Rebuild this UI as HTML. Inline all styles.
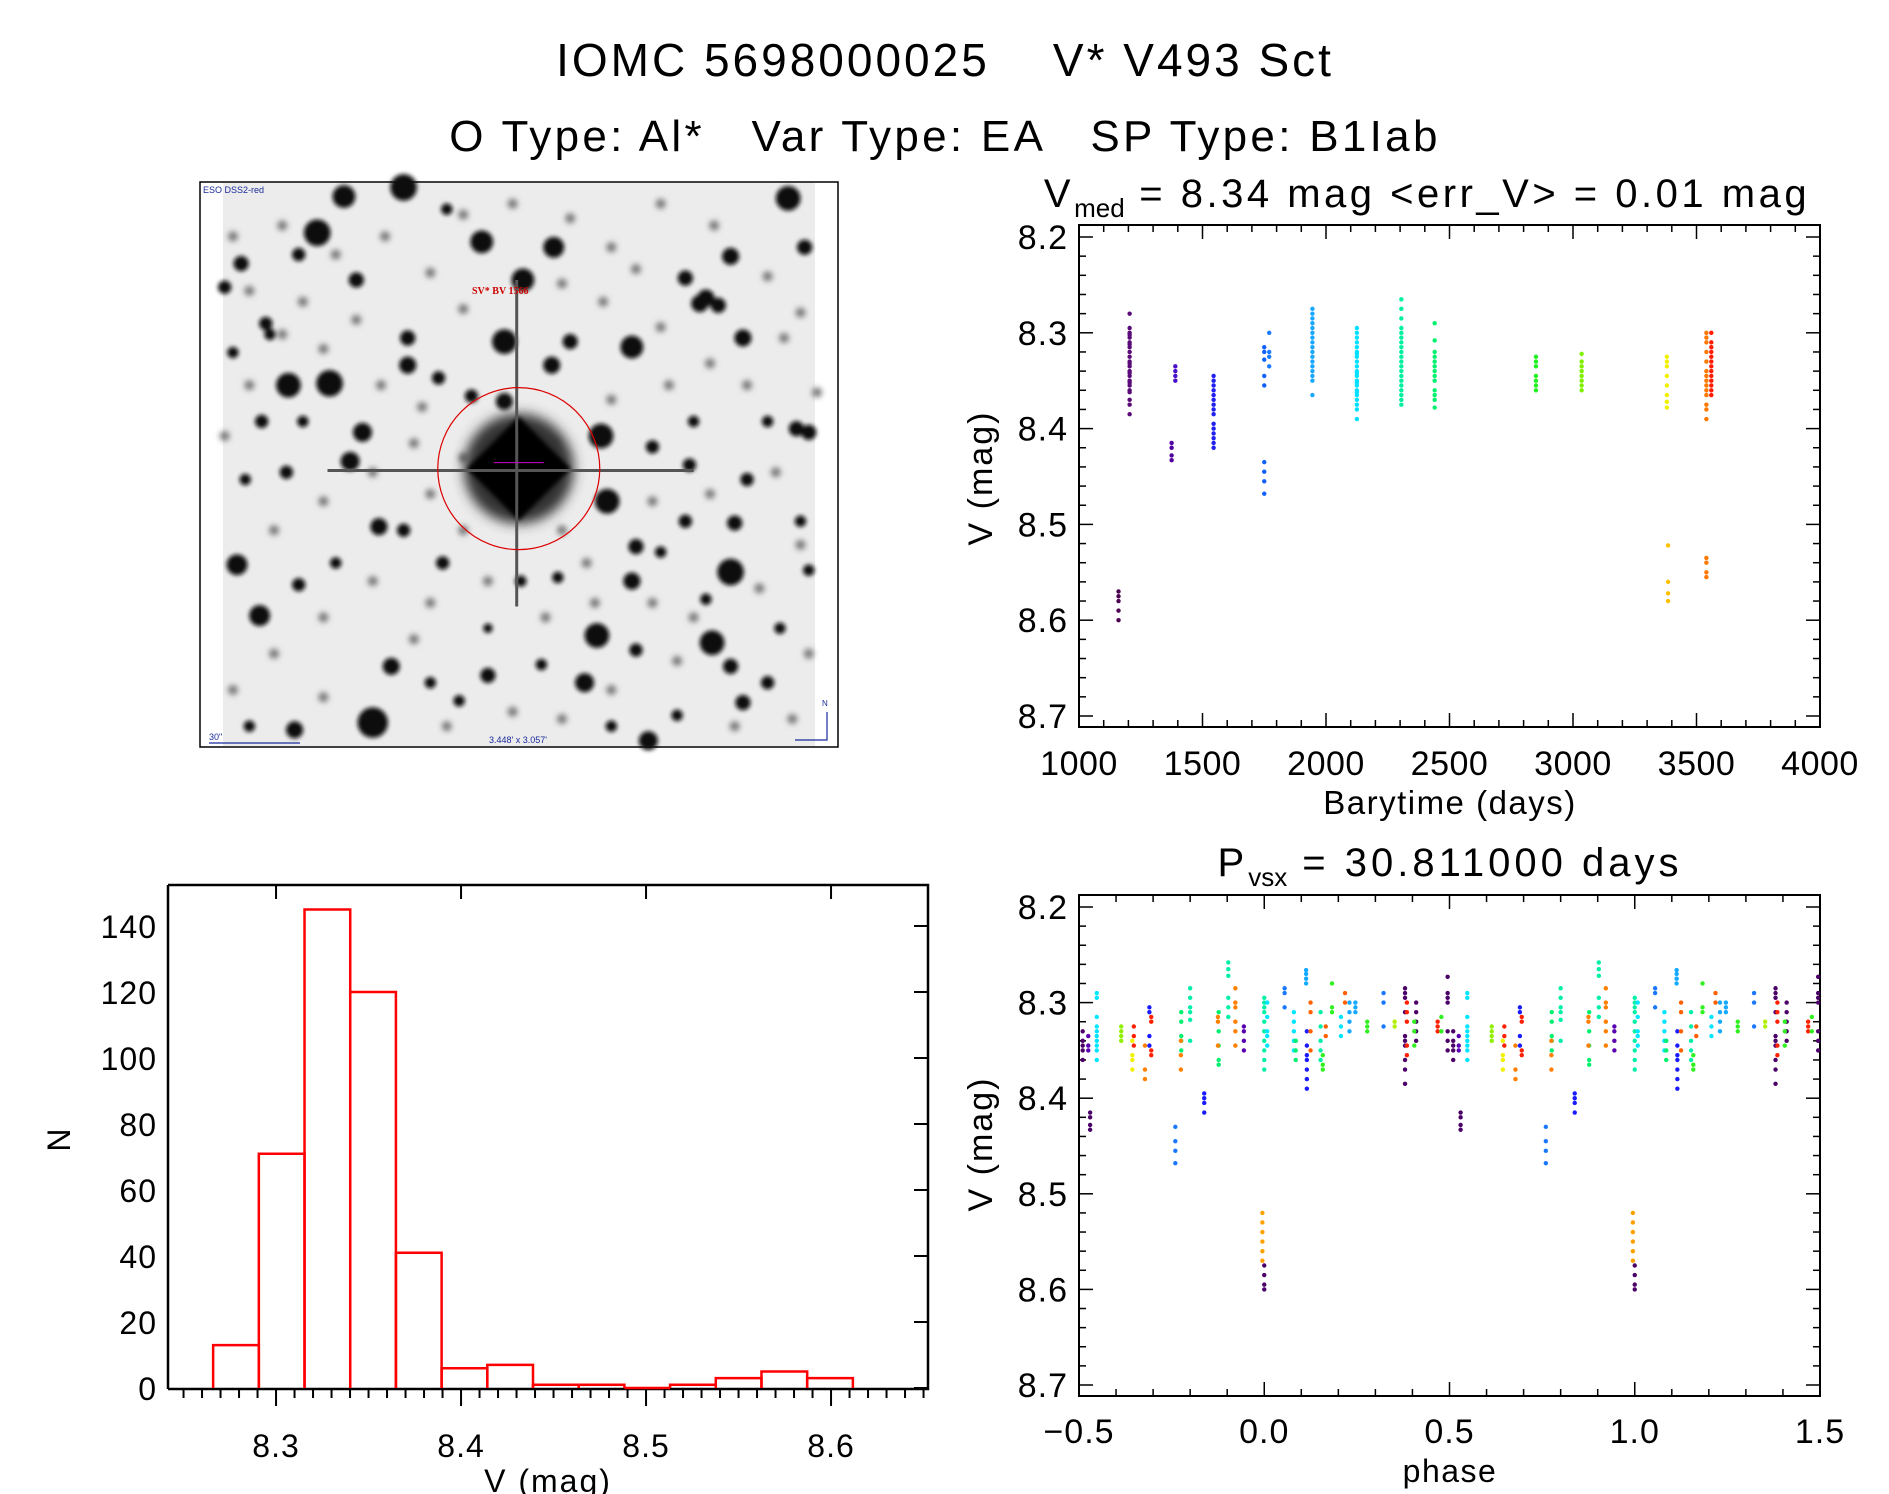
<!DOCTYPE html>
<html><head><meta charset="utf-8"><style>
html,body{margin:0;padding:0;background:#fff}
svg{display:block;font-family:"Liberation Sans",sans-serif}
text{white-space:pre}
</style></head><body>
<svg id="root" width="1889" height="1494" viewBox="0 0 1889 1494" xmlns="http://www.w3.org/2000/svg">
<defs>
<filter id="blur" x="-50%" y="-50%" width="200%" height="200%"><feGaussianBlur stdDeviation="2.2"/></filter>
<filter id="blur3" x="-50%" y="-50%" width="200%" height="200%"><feGaussianBlur stdDeviation="3"/></filter>
<filter id="blur2" x="-50%" y="-50%" width="200%" height="200%"><feGaussianBlur stdDeviation="6"/></filter>
</defs>
<text x="945" y="76" font-size="46" letter-spacing="3" text-anchor="middle">IOMC 5698000025    V* V493 Sct</text>
<text x="945" y="151" font-size="44" letter-spacing="3.3" text-anchor="middle">O Type: Al*   Var Type: EA   SP Type: B1Iab</text>
<g id="sky"></g>
<g id="hist"></g>
<g id="lc"></g>
<g id="ph"></g>
</svg>
<script>
// ---------- Histogram data ----------
const histCounts = [13,71,145,120,41,6,7,1,1,0,1,3,5,3];
const histStart = 8.266;
const histBinWidth = 0.0247;
const histYTicks = [0,20,40,60,80,100,120,140];
const histXTicks = [8.3,8.4,8.5,8.6];

// ---------- Light curve data ----------
const lcTimes = [1160,1205,1375,1390,1545,1750,1770,1945,2125,2305,2440,2850,3035,3380,3385,3540,3560];
const lcMags = [
 [8.57,8.575,8.58,8.59,8.60],
 [8.28,8.295,8.30,8.302,8.305,8.31,8.312,8.315,8.32,8.325,8.33,8.332,8.335,8.34,8.342,8.345,8.35,8.352,8.355,8.36,8.362,8.37,8.375,8.385],
 [8.415,8.42,8.428,8.433],
 [8.335,8.34,8.345,8.35],
 [8.345,8.35,8.355,8.36,8.365,8.37,8.375,8.38,8.385,8.395,8.4,8.405,8.41,8.415,8.42],
 [8.315,8.32,8.328,8.345,8.355,8.435,8.445,8.455,8.468],
 [8.30,8.32,8.325,8.335],
 [8.275,8.28,8.285,8.29,8.295,8.30,8.305,8.31,8.315,8.32,8.325,8.33,8.335,8.34,8.345,8.35,8.365],
 [8.295,8.30,8.305,8.31,8.315,8.32,8.322,8.325,8.33,8.335,8.34,8.342,8.345,8.35,8.352,8.355,8.36,8.362,8.365,8.37,8.375,8.38,8.39],
 [8.265,8.275,8.285,8.295,8.3,8.305,8.31,8.315,8.32,8.325,8.33,8.335,8.34,8.345,8.35,8.355,8.36,8.365,8.37,8.375],
 [8.29,8.308,8.32,8.325,8.33,8.335,8.34,8.345,8.35,8.36,8.365,8.37,8.378],
 [8.325,8.33,8.335,8.345,8.35,8.355,8.36],
 [8.322,8.33,8.335,8.34,8.345,8.35,8.355,8.36],
 [8.325,8.33,8.335,8.345,8.355,8.365,8.372,8.378],
 [8.522,8.56,8.572,8.58],
 [8.30,8.305,8.31,8.32,8.33,8.34,8.345,8.35,8.355,8.36,8.365,8.375,8.38,8.39,8.535,8.54,8.55,8.555],
 [8.30,8.31,8.315,8.32,8.325,8.33,8.335,8.34,8.345,8.35,8.355,8.36,8.365]
];
const lcColors = ['#4b0050','#5a0a78','#5000a0','#4a10c8','#2020f0','#1060ff','#1a7aff','#1aa8ff','#00e0ff','#00f0a0','#00f070','#20f020','#80f000','#f0f000','#ffc000','#ff7800','#ff1a00'];
const lcXTicks = [1000,1500,2000,2500,3000,3500,4000];
const magTicks = [8.2,8.3,8.4,8.5,8.6,8.7];

// ---------- Phase data ----------
const phPhases = [-0.49,0.495,-0.475,-0.47,-0.452,-0.386,-0.356,-0.352,-0.322,-0.31,-0.305,-0.24,-0.224,-0.225,-0.2,-0.162,-0.123,-0.125,-0.097,-0.078,-0.055,0.0,0.008,-0.005,0.0,0.055,0.08,0.085,0.113,0.115,0.125,0.152,0.158,0.166,0.183,0.207,0.218,0.23,0.246,0.278,0.322,0.352,0.38,0.385,0.41,0.405,0.468,0.478];
const phMags = [
 [8.33,8.34,8.345,8.35,8.36],
 [8.273,8.29,8.295,8.3,8.33,8.34,8.35],
 [8.335,8.345,8.35],
 [8.415,8.42,8.428,8.433],
 [8.29,8.295,8.315,8.325,8.33,8.335,8.34,8.345,8.35,8.36],
 [8.325,8.33,8.335,8.34],
 [8.34,8.355,8.36,8.37],
 [8.325,8.335,8.345],
 [8.345,8.37,8.38],
 [8.305,8.31,8.335,8.345],
 [8.315,8.32,8.35,8.355],
 [8.43,8.445,8.455,8.468],
 [8.31,8.32,8.335,8.34,8.35],
 [8.34,8.355,8.37],
 [8.285,8.295,8.305,8.31,8.318,8.34],
 [8.395,8.40,8.405,8.415],
 [8.31,8.33,8.345,8.36,8.365],
 [8.315,8.32,8.345],
 [8.258,8.265,8.272,8.295,8.305,8.315],
 [8.285,8.3,8.305,8.32,8.33,8.345],
 [8.325,8.33,8.34,8.35],
 [8.295,8.30,8.305,8.31,8.32,8.33,8.34,8.35,8.36,8.37],
 [8.30,8.315,8.33,8.335,8.345],
 [8.52,8.53,8.54,8.55,8.56,8.57],
 [8.575,8.585,8.595,8.60],
 [8.285,8.29,8.305],
 [8.31,8.32,8.33,8.34,8.35],
 [8.34,8.35,8.36],
 [8.266,8.27,8.275,8.28],
 [8.33,8.345,8.355,8.36,8.37,8.38,8.39],
 [8.3,8.31,8.33,8.35],
 [8.31,8.325,8.34,8.35,8.36],
 [8.355,8.365,8.37],
 [8.325,8.335],
 [8.28,8.305,8.31],
 [8.315,8.325,8.335],
 [8.29,8.3],
 [8.3,8.31,8.32,8.33],
 [8.3,8.305,8.31],
 [8.32,8.325,8.33],
 [8.29,8.3,8.325],
 [8.32,8.325],
 [8.285,8.29,8.295,8.31,8.335,8.34,8.345,8.36,8.37,8.385],
 [8.3,8.31,8.32,8.345,8.355],
 [8.3,8.31,8.32,8.33,8.34],
 [8.32,8.33,8.345],
 [8.32,8.325,8.33],
 [8.315,8.33]
];
const phColors = ['#4b0068','#4b0068','#5a00b0','#4b0068','#00e6ff','#90f000','#f0f000','#ff2000','#ff8000','#1a1aff','#ff2000','#1a78ff','#00f070','#ff8000','#00f0a8','#1a1aff','#00f070','#ff8000','#00f0a8','#ff8000','#5a00b0','#00f0a8','#00e6ff','#ffa000','#4b0068','#1a78ff','#00e6ff','#00f070','#14aaff','#1a1aff','#ff6000','#00f0a8','#30f020','#ff6000','#30f020','#00e6ff','#ff6000','#14aaff','#14aaff','#30f020','#1a78ff','#b0f000','#4b0068','#ff2000','#4b0068','#30f020','#ff2000','#30f020'];
const phXTicks = [-0.5,0.0,0.5,1.0,1.5];
const phXLabels = ['\u22120.5','0.0','0.5','1.0','1.5'];

const NS='http://www.w3.org/2000/svg';
function mk(parent,tag,attrs){const e=document.createElementNS(NS,tag);for(const k in attrs)e.setAttribute(k,attrs[k]);parent.appendChild(e);return e;}

// ---------- Sky image ----------
(function(){
 const g=document.getElementById('sky');
 const bg=mk(g,'rect',{x:200,y:182,width:638,height:565,fill:'#ffffff',stroke:'#000','stroke-width':1.5});
 
 
 const field=mk(g,'rect',{x:223,y:183,width:592,height:563,fill:'#ececec'});
 
 
 const sx=640/1556, sy=566/1560;
 const faint=[[120,300],[200,120],[330,200],[450,150],[560,250],[640,90],[760,60],[900,100],[1000,180],[1120,60],[1250,120],[1380,260],[1460,360],[1330,560],[1240,500],[1120,400],[980,330],[880,280],[640,350],[540,620],[440,560],[300,460],[200,420],[120,560],[60,700],[180,960],[300,880],[420,800],[560,860],[640,960],[760,900],[880,960],[940,1050],[1100,880],[1240,860],[1400,800],[1460,1000],[1360,1120],[1200,1200],[1100,1160],[960,1160],[840,1200],[700,1100],[560,1160],[420,1100],[300,1200],[180,1300],[80,1400],[300,1420],[520,1260],[600,1500],[760,1460],[880,1480],[1000,1400],[1160,1320],[1300,1500],[1440,1480],[1480,1300],[80,150],[1500,580],[1000,600],[1140,560],[860,720],[640,760],[520,720],[250,330],[380,380],[1060,240],[1420,430]];
 const fg=mk(g,'g',{filter:'url(#blur3)'});
 faint.forEach(s=>{const c=mk(fg,'circle',{cx:200+s[0]*sx,cy:182+s[1]*sy,r:5,fill:'#777'});
  
  });
 const stars=[[285,140,14],[350,40,12],[495,15,14],[685,165,12],[860,180,11],[785,270,12],[740,440,13],[505,430,8],[505,505,9],[215,560,13],[315,555,14],[900,440,8],[1050,455,12],[1320,430,9],[1290,205,9],[1430,45,13],[1215,335,9],[1180,265,8],[975,700,13],[990,880,13],[395,690,10],[365,770,10],[90,1055,11],[1290,1075,14],[1050,1100,9],[965,1250,13],[1245,1270,13],[935,1380,10],[420,1490,16],[230,1510,9],[465,1335,9],[700,1360,8],[145,1195,11],[1290,1335,8],[435,950,9],[855,505,9],[740,605,9],[660,590,7],[100,225,8],[1320,1435,8],[1090,1540,10],[1060,1005,8],[380,270,8],[160,390,7],[600,75,6],[1470,180,8],[1450,680,8],[1380,660,6],[1200,660,6],[1100,730,7],[1330,820,7],[1190,780,7],[1300,940,8],[1460,935,6],[1180,935,7],[1480,1070,6],[590,1050,7],[495,960,7],[240,1110,7],[1160,1470,6],[1380,1380,7],[560,1380,6],[870,1090,6],[330,1050,6],[210,800,7],[110,820,6],[580,540,7],[1120,1020,6],[1230,1150,6],[1000,1500,6],[630,1430,6],[780,1100,6],[830,1330,6],[150,660,7],[250,660,6],[80,470,6],[1410,1230,6],[700,1230,5],[1060,1290,7],[1230,320,9],[1260,340,8],[1480,690,8],[120,1500,6],[60,290,7],[170,420,6],[240,200,7]];
 const sg=mk(g,'g',{filter:'url(#blur)'});
 stars.forEach(s=>{const c=mk(sg,'circle',{cx:200+s[0]*sx,cy:182+s[1]*sy,r:s[2]*0.95,fill:'#0a0a0a'});
  
  });
 const cx=200+775*sx, cy=182+790*sy;
 const glow=mk(g,'circle',{cx:cx,cy:cy,r:55,fill:'#333',filter:'url(#blur2)'});
 
 
 mk(g,'polygon',{points:`${cx},${cy-52} ${cx+52},${cy} ${cx},${cy+52} ${cx-52},${cy}`,fill:'#000',filter:'url(#blur)'});
 mk(g,'line',{x1:200+310*sx,y1:182+795*sy,x2:200+1200*sx,y2:182+795*sy,stroke:'#555','stroke-width':3});
 mk(g,'line',{x1:200+770*sx,y1:182+270*sy,x2:200+770*sx,y2:182+1170*sy,stroke:'#555','stroke-width':3});
 const circ=mk(g,'circle',{cx:cx,cy:cy,r:81,fill:'none',stroke:'#d00','stroke-width':1.2});
 
 
 mk(g,'line',{x1:cx-25,y1:cy-6,x2:cx+25,y2:cy-6,stroke:'#c0c','stroke-width':1});
 const t1=mk(g,'text',{x:203,y:193,'font-size':9,fill:'#1a2a9a'});t1.textContent='ESO DSS2-red';
 
 const t2=mk(g,'text',{x:472,y:294,'font-size':10,fill:'#c00','font-family':'Liberation Serif, serif','font-weight':'bold'});t2.textContent='SV* BV 1566';
 
 const t3=mk(g,'text',{x:489,y:743,'font-size':9,fill:'#1a2a9a'});t3.textContent='3.448\' x 3.057\'';
 
 const t4=mk(g,'text',{x:209,y:740,'font-size':9,fill:'#1a2a9a'});t4.textContent='30"';
 
 mk(g,'line',{x1:209,y1:743,x2:300,y2:743,stroke:'#1a2a9a','stroke-width':1.2});
 mk(g,'polyline',{points:'795,740 827,740 827,712',fill:'none',stroke:'#1a2a9a','stroke-width':1.2});
 const t5=mk(g,'text',{x:822,y:706,'font-size':8,fill:'#1a2a9a'});t5.textContent='N';
 
})();

// ---------- generic text ----------
function txt(g,x,y,s,size,anchor,name,rot,ls){const t=mk(g,'text',{x:x,y:y,'font-size':size,'text-anchor':anchor||'middle'});if(ls)t.setAttribute('letter-spacing',ls);if(rot)t.setAttribute('transform',`rotate(-90 ${x} ${y})`);t.textContent=s;
 
 
 return t;}

// ---------- Histogram ----------
(function(){
 const g=document.getElementById('hist');
 const L=168,R=928,T=885,B=1388;
 const x=v=>L+(v-8.2416)*1850, y=n=>B-n*3.3;
 const box=mk(g,'polyline',{points:`${L},${T} ${R},${T} ${R},${B+1} ${L},${B+1}`,fill:'none',stroke:'#000','stroke-width':2.5});
 
 mk(g,'line',{x1:L,y1:T,x2:L,y2:B+1,stroke:'#000','stroke-width':2.5});
 histCounts.forEach((c,i)=>{const x0=x(histStart+i*histBinWidth),x1=x(histStart+(i+1)*histBinWidth);
  const r=mk(g,'polyline',{points:`${x0},${y(0)} ${x0},${y(c)} ${x1},${y(c)} ${x1},${y(0)}`,fill:'none',stroke:'#f00','stroke-width':2.5});
  
  });
 for(let v=8.25;v<=8.651;v+=0.01){const X=x(v);const major=Math.abs(Math.round(v*10)-v*10)<1e-6;mk(g,'line',{x1:X,y1:B+1,x2:X,y2:B+(major?18:10),stroke:'#000','stroke-width':2});}
 histXTicks.forEach(v=>{mk(g,'line',{x1:x(v),y1:T,x2:x(v),y2:T+14,stroke:'#000','stroke-width':2});txt(g,x(v),1457,v.toFixed(1),32,'middle','x-tick-label',false,1);});
 histYTicks.forEach(n=>{mk(g,'line',{x1:R,y1:y(n),x2:R-14,y2:y(n),stroke:'#000','stroke-width':2});txt(g,157,y(n)+12,String(n),32,'end','y-tick-label',false,1);});
 txt(g,548,1492,'V (mag)',32,'middle','x-axis-title',false,2);
 txt(g,70,1140,'N',32,'middle','y-axis-title',true);
})();

// ---------- magnitude axis helper ----------
function magAxes(g,L,R,T,B,y){
 const f=mk(g,'rect',{x:L,y:T,width:R-L,height:B-T,fill:'none',stroke:'#000','stroke-width':2});
 
 for(let m=8.2;m<=8.7001;m+=0.02){const Y=y(m);const major=Math.abs(Math.round(m*10)-m*10)<1e-6;const len=major?14:7;
  mk(g,'line',{x1:L,y1:Y,x2:L+len,y2:Y,stroke:'#000','stroke-width':1.5});mk(g,'line',{x1:R,y1:Y,x2:R-len,y2:Y,stroke:'#000','stroke-width':1.5});}
 magTicks.forEach(m=>txt(g,L-11,y(m)+12,m.toFixed(1),34,'end','y-tick-label',false,1));
}
function dot(g,X,Y,c){const d=mk(g,'circle',{cx:X,cy:Y,r:2.2,fill:c});
 
 }

// ---------- Light curve ----------
(function(){
 const g=document.getElementById('lc');
 const L=1079,R=1820,T=225,B=727;
 const x=t=>L+(t-1000)*(R-L)/3000, y=m=>237+(m-8.2)*958;
 magAxes(g,L,R,T,B,y);
 for(let t=1000;t<=4000;t+=100){const major=t%500===0;const len=major?14:7;const X=x(t);
  mk(g,'line',{x1:X,y1:B,x2:X,y2:B-len,stroke:'#000','stroke-width':1.5});mk(g,'line',{x1:X,y1:T,x2:X,y2:T+len,stroke:'#000','stroke-width':1.5});}
 lcXTicks.forEach(t=>txt(g,x(t),775,String(t),34,'middle','x-tick-label',false,0.5));
 lcTimes.forEach((t,i)=>lcMags[i].forEach(m=>dot(g,x(t),y(m),lcColors[i])));
 const tt=mk(g,'text',{x:1427,y:207,'font-size':40,'text-anchor':'middle','letter-spacing':3.5});
 
 tt.innerHTML='V<tspan font-size="26" dy="10" letter-spacing="0">med</tspan><tspan dy="-10"> = 8.34 mag &lt;err_V&gt; = 0.01 mag</tspan>';
 txt(g,1450,814,'Barytime (days)',33,'middle','x-axis-title',false,1.5);
 txt(g,992,478,'V (mag)',34,'middle','y-axis-title',true,2);
})();

// ---------- Phase plot ----------
(function(){
 const g=document.getElementById('ph');
 const L=1079,R=1820,T=895,B=1396;
 const x=p=>L+(p+0.5)*(R-L)/2, y=m=>907+(m-8.2)*956;
 magAxes(g,L,R,T,B,y);
 for(let k=-5;k<=15;k++){const p=k/10;const major=k%5===0;const len=major?14:7;const X=x(p);
  mk(g,'line',{x1:X,y1:B,x2:X,y2:B-len,stroke:'#000','stroke-width':1.5});mk(g,'line',{x1:X,y1:T,x2:X,y2:T+len,stroke:'#000','stroke-width':1.5});}
 phXTicks.forEach((p,i)=>txt(g,x(p),1443,phXLabels[i],34,'middle','x-tick-label',false,1));
 phPhases.forEach((p,i)=>phMags[i].forEach(m=>{
  [p,p+1].forEach(q=>{if(q>=-0.5&&q<=1.5)dot(g,x(q),y(m),phColors[i]);});
 }));
 const tt=mk(g,'text',{x:1450,y:876,'font-size':40,'text-anchor':'middle','letter-spacing':4});
 
 tt.innerHTML='P<tspan font-size="26" dy="10" letter-spacing="0">vsx</tspan><tspan dy="-10"> = 30.811000 days</tspan>';
 txt(g,1450,1482,'phase',32,'middle','x-axis-title',false,1.5);
 txt(g,992,1144,'V (mag)',34,'middle','y-axis-title',true,2);
})();
</script>
</body></html>
